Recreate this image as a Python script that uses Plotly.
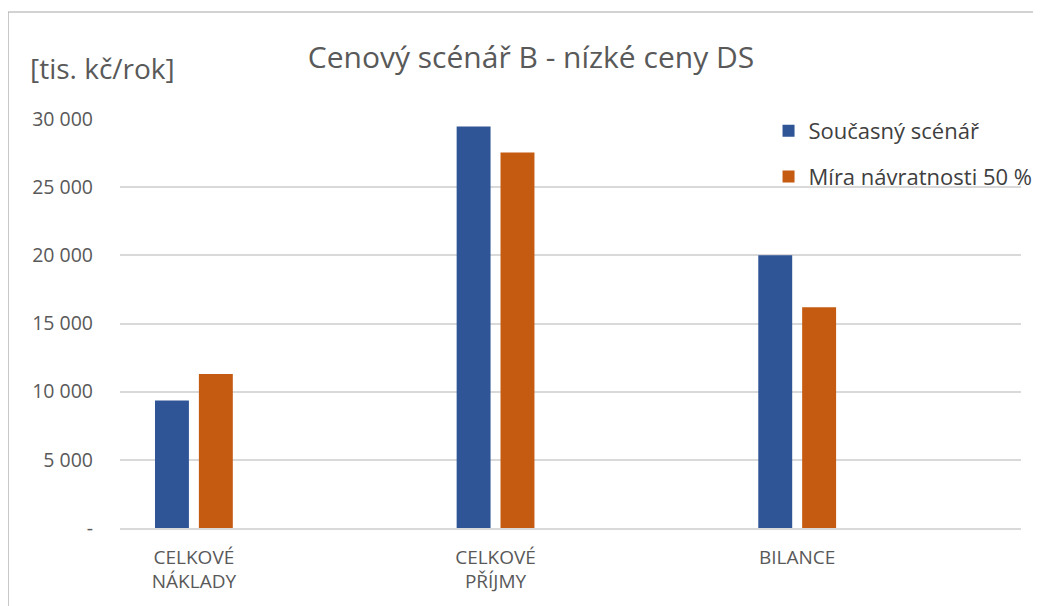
import plotly.graph_objects as go

# data
categories = ["CELKOVÉ<br>NÁKLADY", "CELKOVÉ<br>PŘÍJMY", "BILANCE"]
soucasny = [9350, 29450, 20000]
navratnost_50 = [11300, 27550, 16200]
series_names = ["Současný scénář", "Míra návratnosti 50 %"]
y_ticks = [0, 5000, 10000, 15000, 20000, 25000, 30000]
y_tick_text = ["-", "5 000", "10 000", "15 000", "20 000", "25 000", "30 000"]

FONT = "Open Sans"
TXT = "#595959"

fig = go.Figure()
fig.add_trace(go.Bar(x=categories, y=soucasny, name=series_names[0],
                     marker=dict(color="#2F5597", line=dict(width=0)),
                     legendgroup="a"))
fig.add_trace(go.Bar(x=categories, y=navratnost_50, name=series_names[1],
                     marker=dict(color="#C55A11", line=dict(width=0)),
                     legendgroup="b"))

# page body has an 8px margin, so the figure origin sits at (8, 8)
fig.update_layout(
    width=1041, height=606,
    margin=dict(l=112, r=27, t=111, b=86),
    paper_bgcolor="white", plot_bgcolor="white",
    font=dict(family=FONT, color=TXT, size=18),
    barmode="group", bargap=0.709, bargroupgap=0.227,
    title=dict(text="Cenový scénář B - nízké ceny DS", x=523 / 1041, xref="container",
               xanchor="center", y=1 - 49 / 606, yanchor="middle",
               font=dict(size=30, color=TXT, family=FONT)),
    legend=dict(x=0.719, y=1.022, xanchor="left", yanchor="top",
                font=dict(size=22, color="#404040"), bgcolor="rgba(0,0,0,0)",
                traceorder="grouped", tracegroupgap=14, itemwidth=30),
    showlegend=True,
)

fig.update_xaxes(range=[-0.245, 2.742], showgrid=False, showline=True,
                 linecolor="#D9D9D9", linewidth=1.5, ticks="",
                 tickfont=dict(size=19, color=TXT), ticklabelstandoff=11)
fig.update_yaxes(range=[0, 30000], tickvals=y_ticks, ticktext=y_tick_text,
                 showgrid=True, gridcolor="#D9D9D9", gridwidth=1.5,
                 zeroline=False, showline=False, ticks="",
                 tickfont=dict(size=19.5, color=TXT), ticklabelstandoff=26)

# y axis unit label
fig.add_annotation(text="[tis. kč/rok]", xref="paper", yref="paper",
                   x=(28 - 120) / 902, y=(528 - 68) / 409, xanchor="left",
                   yanchor="middle", showarrow=False,
                   font=dict(size=28, color=TXT, family=FONT))

# chart frame (left and top edges visible)
fig.add_shape(type="rect", xref="paper", yref="paper",
              x0=(8 - 120) / 902, x1=1.2, y0=-0.4, y1=(528 - 12) / 409,
              line=dict(color="#A6A6A6", width=1), fillcolor="rgba(0,0,0,0)",
              layer="below")

fig.write_html("out.html")
